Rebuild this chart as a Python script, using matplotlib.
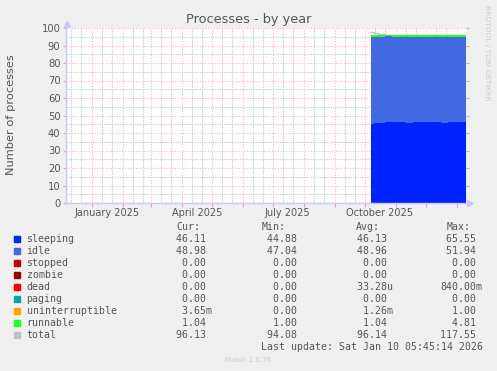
import datetime as dt
import matplotlib
matplotlib.use("Agg")
import matplotlib.pyplot as plt
import matplotlib.dates as mdates
from matplotlib.lines import Line2D
from matplotlib.patches import Rectangle

W, H = 497, 371
BG = '#f0f0f0'
TXT = '#555555'

# weekly samples (averaged) for the time that has data
dates = ['2025-10-07', '2025-10-10', '2025-10-14', '2025-10-21', '2025-10-28',
         '2025-11-04', '2025-11-11', '2025-11-18', '2025-11-25', '2025-12-02',
         '2025-12-09', '2025-12-16', '2025-12-23', '2025-12-30', '2026-01-06',
         '2026-01-10']
sleeping = [45.3, 45.6, 46.0, 46.3, 46.1, 46.1, 46.0, 46.1, 46.2, 46.1,
            46.1, 46.0, 46.1, 46.1, 46.1, 46.11]
idle = [49.8, 49.4, 49.1, 48.9, 49.0, 49.0, 48.9, 49.0, 48.9, 48.96,
        49.0, 49.0, 48.98, 48.96, 48.98, 48.98]
runnable = [1.10, 1.05, 1.04, 1.04, 1.04, 1.04, 1.04, 1.04, 1.04, 1.04,
            1.04, 1.04, 1.04, 1.04, 1.04, 1.04]
total = [97.8, 97.0, 96.3, 96.2, 96.14, 96.14, 96.1, 96.14, 96.14, 96.14,
         96.14, 96.1, 96.14, 96.12, 96.13, 96.13]

legend_names = ['sleeping', 'idle', 'stopped', 'zombie', 'dead', 'paging',
                'uninterruptible', 'runnable', 'total']
legend_colors = ['#0022ff', '#4169e1', '#cc0000', '#990000', '#ff0000',
                 '#00aaaa', '#ffa500', '#22ff22', '#c0c0c0']
cur = [' 46.11 ', ' 48.98 ', '  0.00 ', '  0.00 ', '  0.00 ', '  0.00 ',
       '  3.65m', '  1.04 ', ' 96.13 ']
mins = [' 44.88 ', ' 47.04 ', '  0.00 ', '  0.00 ', '  0.00 ', '  0.00 ',
        '  0.00 ', '  1.00 ', ' 94.08 ']
avgs = [' 46.13 ', ' 48.96 ', '  0.00 ', '  0.00 ', ' 33.28u', '  0.00 ',
        '  1.26m', '  1.04 ', ' 96.14 ']
maxs = [' 65.55 ', ' 51.94 ', '  0.00 ', '  0.00 ', '840.00m', '  0.00 ',
        '  1.00 ', '  4.81 ', '117.55 ']

start = dt.datetime(2024, 12, 6, 5, 45)
end = dt.datetime(2026, 1, 10, 5, 45)
x = [dt.datetime.strptime(d, '%Y-%m-%d') for d in dates]
x[-1] = end


def fx(px):
    return px / W


def fy(py):
    return 1 - py / H


fig = plt.figure(figsize=(W / 100, H / 100), dpi=100, facecolor=BG)
ax = fig.add_axes([fx(66), fy(203), fx(466) - fx(66), fy(28) - fy(203)])
ax.set_facecolor('white')

# total drawn first so that only the part above the stack shows
ax.step(x, total, where='post', color='#c0c0c0', lw=1, zorder=2)
ax.stackplot(x, sleeping, idle, runnable, step='post',
             colors=['#0022ff', '#4169e1', '#22ff22'], lw=0, zorder=3)

ax.set_xlim(start, end)
ax.set_ylim(0, 100)

ax.xaxis.set_major_locator(mdates.MonthLocator())
ax.xaxis.set_minor_locator(mdates.DayLocator(bymonthday=[11, 21]))
ax.set_yticks(range(0, 101, 10))
ax.set_yticks(range(5, 100, 10), minor=True)
ax.set_xticklabels([])
ax.set_yticklabels([str(v) for v in range(0, 101, 10)], fontsize=7.2, color=TXT)
ax.tick_params(axis='x', which='major', length=3, color='#ff9999')
ax.tick_params(which='minor', length=0)
ax.tick_params(axis='y', which='major', right=True, labelright=False, length=2,
               color='#ff9999', pad=2, direction='out')

ax.grid(which='major', color='#ff0000', alpha=0.3, ls=(0, (1, 1.5)), lw=0.8, zorder=1)
ax.grid(which='minor', color='#c8c8c8', ls=(0, (1, 1)), lw=0.8, zorder=1)
ax.set_axisbelow(False)
for s in ax.spines.values():
    s.set_visible(False)

# month labels centred on the middle of each quarter's first month
for m in [dt.datetime(2025, 1, 16), dt.datetime(2025, 4, 16),
          dt.datetime(2025, 7, 16), dt.datetime(2025, 10, 16)]:
    ax.text(m, -0.055, m.strftime('%B %Y'), transform=ax.get_xaxis_transform(),
            ha='center', va='center', fontsize=7.0, color=TXT)

# axes lines with arrows
axc = '#c8c8f8'
fig.add_artist(Line2D([fx(66), fx(66)], [fy(204), fy(24)], color=axc, lw=1))
fig.add_artist(Line2D([fx(66), fx(469)], [fy(203.5), fy(203.5)], color=axc, lw=1))
fig.add_artist(Line2D([fx(66.5)], [fy(23.5)], marker='^', ms=4, color=axc, lw=0))
fig.add_artist(Line2D([fx(470)], [fy(203.5)], marker='>', ms=4, color=axc, lw=0))

fig.text(0.5, fy(19), 'Processes - by year', ha='center', va='center',
         fontsize=9.3, color=TXT)
fig.text(fx(11), fy(115), 'Number of processes', rotation=90, ha='center',
         va='center', fontsize=8.2, color=TXT)
fig.text(fx(487), fy(5), 'RRDTOOL / TOBI OETIKER', rotation=270, ha='center',
         va='top', fontsize=5.4, color='#cccccc')
fig.text(0.5, fy(360), 'Munin 2.0.76', ha='center', va='center',
         fontsize=5, color='#cccccc')

mono = dict(family='DejaVu Sans Mono', fontsize=7.1, color=TXT, va='center')
fig.text(fx(176), fy(227.3), 'Cur:', **mono)
fig.text(fx(262), fy(227.3), 'Min:', **mono)
fig.text(fx(356), fy(227.3), 'Avg:', **mono)
fig.text(fx(446.5), fy(227.3), 'Max:', **mono)
for i, name in enumerate(legend_names):
    yy = 239.3 + 12 * i
    fig.patches.append(Rectangle((fx(14), fy(yy + 3)), fx(6), fy(0) - fy(6),
                                 transform=fig.transFigure, color=legend_colors[i]))
    fig.text(fx(26.5), fy(yy), name, **mono)
    fig.text(fx(170.4), fy(yy), cur[i], **mono)
    fig.text(fx(260.7), fy(yy), mins[i], **mono)
    fig.text(fx(350.7), fy(yy), avgs[i], **mono)
    fig.text(fx(440.2), fy(yy), maxs[i], **mono)
fig.text(fx(483), fy(347), 'Last update: Sat Jan 10 05:45:14 2026', ha='right',
         **mono)

fig.savefig('out.png', dpi=100, facecolor=BG)
